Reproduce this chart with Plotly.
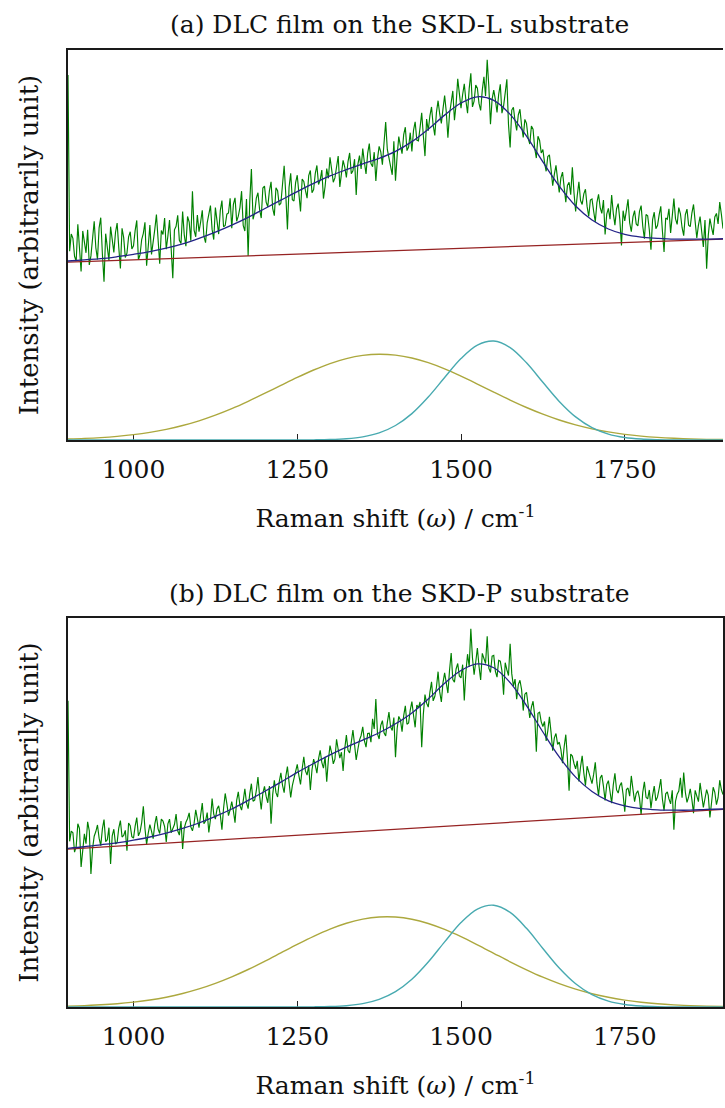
import numpy as np
import plotly.graph_objects as go

# Raman shift grids (cm-1)
shift_raw = np.arange(900, 1900.1, 2.5)   # measured spectrum sampling
shift_fit = np.arange(900, 1901, 25)      # fitted curves sampling
shift_base = [900, 1900]
tick_vals = [1000, 1250, 1500, 1750]

# ---------- (a) SKD-L substrate ----------
# measured counts at 900, 905, ..., 1900
raw_a_main = [
    93.6, 52.8, 47.1, 55.3, 43.2, 50.6, 53.9, 47.2, 56.1, 46.3,
    57.0, 40.6, 49.5, 54.7, 48.1, 55.6, 44.0, 51.9, 47.9, 53.4,
    49.8, 56.3, 47.5, 53.0, 44.7, 55.1, 50.3, 57.8, 45.2, 52.7,
    48.9, 56.4, 41.5, 54.8, 51.2, 58.6, 49.7, 55.9, 63.8, 52.1,
    53.4, 58.9, 50.6, 57.7, 54.0, 59.6, 52.8, 61.4, 55.0, 58.2,
    54.3, 62.1, 57.4, 63.8, 53.6, 47.2, 69.5, 58.3, 63.4, 56.9,
    65.1, 59.8, 66.2, 57.5, 63.9, 60.7, 70.3, 54.0, 68.4, 61.3,
    67.9, 58.6, 66.3, 62.0, 69.1, 64.2, 70.4, 66.7, 61.9, 69.6,
    72.5, 66.1, 70.8, 64.9, 71.7, 67.3, 73.6, 69.0, 62.8, 72.9,
    74.7, 68.2, 76.0, 70.1, 66.4, 75.3, 70.6, 81.5, 72.4, 68.0,
    66.5, 77.8, 73.4, 80.2, 75.1, 74.0, 81.6, 76.7, 83.9, 72.8,
    79.3, 85.4, 78.1, 87.0, 81.2, 88.3, 77.5, 86.6, 82.0, 92.6,
    85.1, 91.3, 83.8, 94.0, 86.9, 90.2, 84.5, 93.1, 97.5, 81.0,
    89.7, 84.0, 91.2, 85.6, 92.5, 75.0, 85.3, 79.4, 84.8, 77.6,
    81.2, 75.9, 79.7, 72.3, 76.8, 74.5, 68.9, 73.1, 65.2, 70.4,
    63.5, 68.7, 61.0, 66.1, 69.9, 58.6, 66.2, 60.4, 64.3, 57.3,
    61.8, 55.9, 63.0, 58.1, 52.7, 59.4, 62.8, 55.1, 60.6, 49.9,
    56.2, 61.7, 53.4, 58.8, 54.9, 60.1, 51.6, 57.5, 48.8, 58.4,
    55.0, 59.9, 48.2, 56.6, 53.1, 61.9, 55.3, 58.0, 52.4, 59.2,
    54.7, 60.4, 51.8, 57.3, 49.5, 43.9, 56.8, 52.6, 58.1, 61.0,
    54.2,
]
# measured counts at 902.5, 907.5, ..., 1897.5
raw_a_half = [
    48.4, 51.7, 45.9, 50.2, 53.6, 48.0, 44.9, 52.5, 49.3, 54.4,
    47.7, 52.9, 46.0, 50.8, 53.2, 49.4, 54.3, 46.8, 52.1, 49.0,
    53.7, 46.2, 51.4, 55.8, 49.6, 47.6, 54.0, 50.9, 53.7, 56.9,
    52.3, 49.1, 53.9, 57.6, 50.4, 52.6, 57.3, 51.1, 53.8, 57.7,
    55.9, 52.3, 55.7, 60.1, 51.4, 56.3, 58.8, 54.7, 57.9, 62.0,
    60.4, 56.1, 59.6, 55.0, 61.8, 61.2, 56.6, 62.0, 59.1, 64.6,
    61.0, 63.9, 59.4, 64.7, 60.2, 65.5, 62.9, 64.8, 61.6, 66.0,
    63.2, 66.9, 64.0, 67.8, 63.4, 68.3, 65.5, 69.2, 65.0, 67.1,
    69.4, 67.2, 72.8, 68.1, 70.0, 71.4, 68.3, 72.0, 70.6, 69.5,
    71.2, 73.5, 70.9, 73.8, 72.1, 73.9, 76.2, 74.5, 70.8, 76.6,
    72.9, 75.4, 78.3, 74.2, 78.8, 79.4, 76.9, 80.1, 78.0, 82.3,
    83.1, 80.7, 84.0, 83.6, 84.9, 84.2, 83.6, 89.5, 86.1, 87.9,
    88.6, 87.0, 90.1, 85.4, 91.0, 86.3, 89.7, 88.2, 90.6, 87.4,
    87.2, 88.6, 83.8, 89.0, 80.9, 84.6, 81.8, 83.4, 80.6, 82.2,
    77.4, 80.5, 74.8, 77.9, 73.6, 71.2, 72.7, 69.4, 68.1, 66.8,
    67.2, 64.8, 65.3, 62.9, 63.4, 62.7, 61.4, 63.1, 59.9, 61.5,
    58.7, 60.9, 59.6, 61.5, 57.9, 56.6, 58.1, 59.3, 56.4, 58.8,
    58.9, 55.7, 57.2, 55.4, 58.6, 54.8, 57.8, 53.9, 56.5, 54.2,
    57.7, 53.6, 56.9, 59.3, 57.4, 56.7, 59.6, 54.5, 57.8, 55.1,
    58.2, 56.0, 55.1, 53.4, 56.4, 52.4, 54.5, 57.2, 55.4, 57.9,
]
fit_a = [
    45.9, 46.2, 46.5, 47.0, 47.6, 48.3, 49.2, 50.3, 51.7, 53.3,
    55.1, 57.1, 59.3, 61.5, 63.7, 65.8, 67.7, 69.3, 70.8, 72.2,
    74.0, 76.5, 79.7, 83.3, 86.4, 88.0, 87.1, 83.5, 77.9, 71.3,
    65.1, 60.0, 56.4, 54.1, 52.7, 52.0, 51.7, 51.5, 51.5, 51.5,
    51.6,
]
base_a = [45.6, 51.5]
dband_a = [
    0.26, 0.41, 0.62, 0.94, 1.37, 1.96, 2.73, 3.71, 4.92, 6.37,
    8.04, 9.92, 11.93, 14.01, 16.06, 17.95, 19.60, 20.87, 21.69, 22.00,
    21.77, 21.03, 19.82, 18.24, 16.37, 14.34, 12.26, 10.23, 8.33, 6.62,
    5.13, 3.88, 2.87, 2.07, 1.45, 1.00, 0.67, 0.44, 0.28, 0.17,
    0.11,
]
gband_a = [
    0, 0, 0, 0, 0, 0, 0, 0, 0, 0,
    0, 0, 0, 0, 0.01, 0.04, 0.11, 0.32, 0.81, 1.83,
    3.72, 6.76, 11.01, 16.02, 20.87, 24.33, 25.38, 23.69, 19.79, 14.79,
    9.89, 5.92, 3.17, 1.52, 0.65, 0.25, 0.09, 0.03, 0, 0,
    0,
]

# ---------- (b) SKD-P substrate ----------
raw_b_main = [
    78.7, 45.2, 39.8, 47.1, 36.0, 44.5, 47.6, 34.2, 43.9, 46.8,
    41.5, 48.2, 43.0, 36.8, 45.7, 42.3, 47.9, 44.1, 40.2, 46.6,
    43.4, 48.7, 45.0, 51.6, 41.8, 46.9, 43.3, 49.1, 44.6, 47.8,
    42.4, 48.3, 45.9, 49.6, 44.2, 40.6, 47.5, 49.9, 45.3, 50.7,
    46.1, 52.4, 47.8, 44.9, 53.6, 48.3, 51.7, 45.6, 54.9, 49.2,
    52.8, 47.4, 55.3, 50.6, 56.1, 51.0, 57.4, 53.2, 59.1, 50.8,
    56.7, 52.5, 47.1, 58.3, 54.0, 60.2, 55.1, 61.8, 53.9, 58.7,
    62.4, 57.2, 64.3, 59.6, 55.8, 63.7, 60.1, 66.0, 61.4, 57.9,
    67.2, 62.5, 68.8, 64.0, 60.7, 69.9, 65.3, 71.2, 63.5, 68.6,
    72.0, 66.8, 70.4, 74.1, 79.2, 68.9, 73.6, 69.7, 75.8, 71.1,
    64.2, 74.7, 70.8, 77.4, 73.0, 78.5, 71.9, 76.9, 66.8, 80.3,
    77.1, 83.6, 79.8, 86.2, 78.4, 85.9, 80.7, 91.0, 83.5, 88.3,
    84.6, 78.8, 90.7, 97.2, 85.4, 92.3, 84.1, 89.6, 95.3, 86.0,
    90.4, 84.8, 88.9, 80.3, 86.7, 93.4, 82.5, 79.1, 84.0, 76.2,
    80.9, 74.3, 78.6, 65.6, 75.8, 72.1, 68.4, 74.6, 65.9, 70.3,
    68.1, 62.7, 70.0, 55.6, 64.5, 61.2, 58.0, 64.6, 56.9, 60.3,
    57.4, 62.9, 54.3, 59.6, 53.1, 58.2, 52.4, 60.1, 55.0, 57.7,
    50.2, 56.3, 59.4, 52.8, 55.6, 49.4, 57.9, 53.5, 51.1, 56.8,
    54.0, 58.6, 50.5, 55.3, 52.2, 45.6, 54.7, 58.9, 60.3, 52.6,
    56.1, 49.8, 54.4, 57.6, 51.3, 55.9, 48.7, 56.5, 52.0, 58.3,
    54.6,
]
raw_b_half = [
    42.6, 44.8, 41.3, 45.9, 40.9, 42.0, 45.3, 40.7, 45.1, 43.4,
    45.8, 42.5, 46.1, 44.0, 41.9, 46.0, 43.7, 45.4, 47.3, 43.8,
    46.5, 44.0, 47.4, 45.9, 44.7, 45.2, 47.0, 45.8, 48.3, 46.4,
    47.1, 44.8, 46.9, 45.3, 47.8, 46.0, 48.4, 46.3, 47.2, 48.1,
    49.3, 47.1, 50.0, 48.2, 49.6, 50.9, 49.4, 51.1, 52.3, 50.7,
    50.4, 53.1, 51.8, 53.0, 52.5, 54.8, 52.9, 55.6, 54.3, 55.0,
    54.2, 56.8, 54.6, 55.1, 57.9, 57.0, 59.3, 57.7, 56.9, 60.4,
    59.5, 61.2, 60.7, 62.1, 61.0, 62.2, 63.8, 62.9, 64.3, 63.5,
    65.3, 63.7, 66.2, 65.5, 66.4, 66.0, 68.1, 67.4, 66.2, 69.8,
    68.5, 70.3, 68.1, 71.5, 70.2, 72.4, 70.5, 73.1, 72.0, 74.4,
    71.6, 73.8, 74.9, 72.7, 76.3, 75.0, 77.6, 78.4, 75.3, 78.1,
    80.9, 78.7, 82.2, 81.0, 83.4, 83.3, 86.6, 84.2, 86.9, 85.1,
    88.0, 86.2, 87.5, 89.8, 88.7, 87.6, 90.9, 88.3, 87.1, 90.2,
    86.3, 89.1, 86.4, 88.5, 85.2, 85.7, 84.3, 82.9, 81.6, 80.4,
    78.0, 77.1, 74.9, 75.5, 73.3, 73.4, 71.0, 70.6, 69.2, 67.5,
    66.2, 66.9, 63.8, 65.0, 62.6, 63.3, 61.7, 60.2, 61.9, 58.6,
    59.8, 57.6, 58.9, 56.7, 57.2, 55.4, 57.1, 55.8, 56.9, 54.6,
    55.9, 54.2, 56.0, 54.9, 53.7, 55.2, 53.9, 55.8, 54.4, 53.0,
    56.1, 53.4, 54.8, 53.5, 55.7, 52.9, 55.5, 53.8, 55.2, 54.0,
    53.3, 55.7, 52.8, 54.9, 53.6, 54.4, 52.5, 55.2, 53.8, 55.9,
]
fit_b = [
    40.8, 41.2, 41.7, 42.2, 42.9, 43.7, 44.7, 45.9, 47.3, 49.0,
    50.9, 53.1, 55.4, 57.8, 60.3, 62.6, 64.8, 66.8, 68.6, 70.5,
    72.8, 75.6, 79.2, 83.2, 86.5, 88.2, 87.2, 83.4, 77.5, 70.7,
    64.3, 59.1, 55.4, 53.0, 51.7, 51.0, 50.7, 50.6, 50.6, 50.8,
    50.9,
]
base_b = [40.6, 50.8]
dband_b = [
    0.23, 0.36, 0.56, 0.84, 1.25, 1.79, 2.52, 3.47, 4.64, 6.07,
    7.75, 9.64, 11.72, 13.90, 16.08, 18.16, 20.01, 21.52, 22.59, 23.13,
    23.12, 22.55, 21.47, 19.94, 18.08, 15.99, 13.81, 11.63, 9.57, 7.67,
    6.01, 4.59, 3.42, 2.49, 1.77, 1.23, 0.83, 0.55, 0.35, 0.22,
    0.14,
]
gband_b = [
    0, 0, 0, 0, 0, 0, 0, 0, 0, 0,
    0, 0, 0, 0, 0.01, 0.04, 0.12, 0.34, 0.86, 1.95,
    3.94, 7.13, 11.55, 16.74, 21.71, 25.19, 26.16, 24.31, 20.22, 15.04,
    10.02, 5.97, 3.18, 1.52, 0.65, 0.25, 0.08, 0.03, 0, 0,
    0,
]

panel_titles = ["(a) DLC film on the SKD-L substrate",
                "(b) DLC film on the SKD-P substrate"]
x_title = "Raman shift (<i>ω</i>) / cm<sup>-1</sup>"
y_title = "Intensity (arbitrarily unit)"

GREEN = "#008000"
FIT = "rgb(35,35,135)"
BASE = "rgb(150,35,35)"
DCOL = "rgb(172,168,62)"
GCOL = "rgb(72,170,176)"
SERIF = "DejaVu Serif"
INK = "#111"


def merge(main, half):
    """Interleave the 5 cm-1 samples with the samples between them."""
    out = np.empty(len(main) + len(half))
    out[0::2] = main
    out[1::2] = half
    return out


W, H = 725, 1108
fig = go.Figure()

panels = [
    dict(raw=merge(raw_a_main, raw_a_half), fit=fit_a, base=base_a, d=dband_a, g=gband_a,
         xa="x", ya="y"),
    dict(raw=merge(raw_b_main, raw_b_half), fit=fit_b, base=base_b, d=dband_b, g=gband_b,
         xa="x2", ya="y2"),
]
for p in panels:
    common = dict(xaxis=p["xa"], yaxis=p["ya"], mode="lines", showlegend=False,
                  hoverinfo="skip")
    fig.add_trace(go.Scatter(x=shift_raw, y=p["raw"], line=dict(color=GREEN, width=1.15), **common))
    fig.add_trace(go.Scatter(x=shift_base, y=p["base"], line=dict(color=BASE, width=1.3), **common))
    fig.add_trace(go.Scatter(x=shift_fit, y=p["fit"], line=dict(color=FIT, width=1.3, shape="spline"), **common))
    fig.add_trace(go.Scatter(x=shift_fit, y=p["d"], line=dict(color=DCOL, width=1.4, shape="spline"), **common))
    fig.add_trace(go.Scatter(x=shift_fit, y=p["g"], line=dict(color=GCOL, width=1.4, shape="spline"), **common))

# pixel geometry of the two plot frames (top, bottom)
left_px = 68
frames = [(50, 440), (618, 1007)]


def py(v):
    return (H - v) / H


xcommon = dict(range=[900, 1900], tickvals=tick_vals, ticks="inside", ticklen=6,
               tickwidth=1, tickcolor="#222", showline=True, linecolor="#1a1a1a",
               linewidth=1.5, mirror=True, showgrid=False, zeroline=False,
               layer="below traces", ticklabelstandoff=6,
               tickfont=dict(family=SERIF, size=25, color=INK),
               title=dict(text=x_title, standoff=27, font=dict(family=SERIF, size=25, color=INK)))
ycommon = dict(range=[0, 100], showline=True, linecolor="#1a1a1a", linewidth=1.5,
               showticklabels=False, ticks="", showgrid=False, zeroline=False,
               title=dict(text=y_title, standoff=20, font=dict(family=SERIF, size=26, color=INK)))

fig.update_layout(
    width=W, height=H, margin=dict(l=left_px, r=0, t=0, b=0),
    paper_bgcolor="white", plot_bgcolor="white", showlegend=False,
    xaxis=dict(domain=[0, 1], anchor="y", **xcommon),
    yaxis=dict(domain=[py(frames[0][1]), py(frames[0][0])], anchor="x", **ycommon),
    xaxis2=dict(domain=[0, 1], anchor="y2", **xcommon),
    yaxis2=dict(domain=[py(frames[1][1]), py(frames[1][0])], anchor="x2", mirror=True, **ycommon),
)

# panel titles
title_y = [25, 593]
for i in range(2):
    fig.add_annotation(text=panel_titles[i], xref="paper", yref="paper",
                       x=(401 - left_px) / (W - left_px), y=py(title_y[i]),
                       xanchor="center", yanchor="middle",
                       showarrow=False, font=dict(family=SERIF, size=25, color=INK))

fig.write_html("out.html")
